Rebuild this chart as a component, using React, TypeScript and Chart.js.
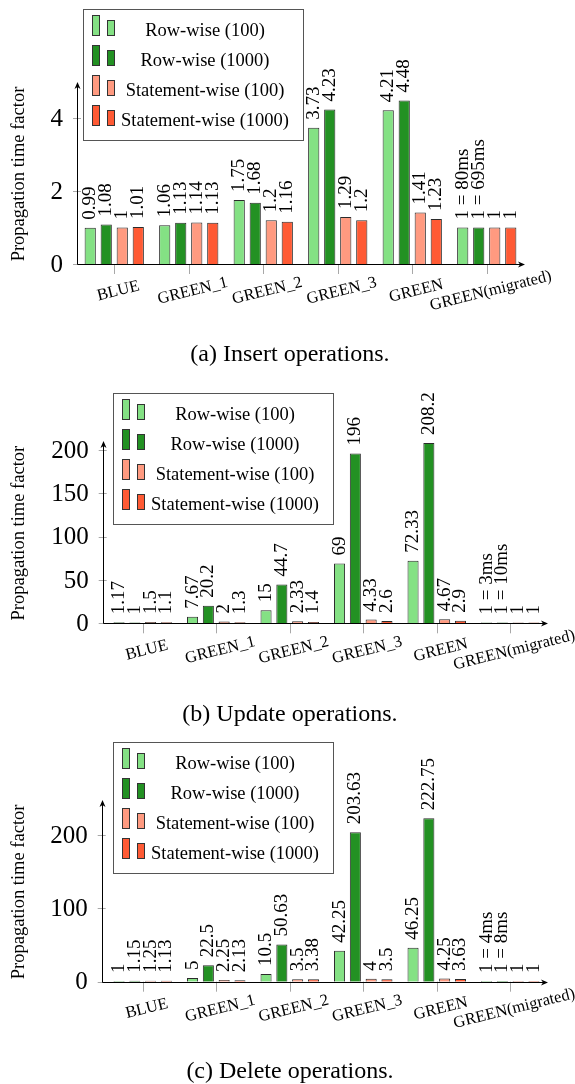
import React, { useEffect, useRef } from 'react';
import { Chart, registerables } from 'chart.js';

Chart.register(...registerables);

// ---------- data ----------
const categories = ['BLUE', 'GREEN_1', 'GREEN_2', 'GREEN_3', 'GREEN', 'GREEN(migrated)'];
const seriesNames = ['Row-wise (100)', 'Row-wise (1000)', 'Statement-wise (100)', 'Statement-wise (1000)'];
const seriesColors = ['#84e184', '#239123', '#ff9a80', '#ff5a34'];

const insertRow100 = [0.99, 1.06, 1.75, 3.73, 4.21, 1];
const insertRow1000 = [1.08, 1.13, 1.68, 4.23, 4.48, 1];
const insertStmt100 = [1, 1.14, 1.2, 1.29, 1.41, 1];
const insertStmt1000 = [1.01, 1.13, 1.16, 1.2, 1.23, 1];
const insertMigratedLabels = ['1 = 80ms', '1 = 695ms', '1', '1'];
const insertTicks = [0, 2, 4];

const updateRow100 = [1.17, 7.67, 15, 69, 72.33, 1];
const updateRow1000 = [1, 20.2, 44.7, 196, 208.2, 1];
const updateStmt100 = [1.5, 2, 2.33, 4.33, 4.67, 1];
const updateStmt1000 = [1.1, 1.3, 1.4, 2.6, 2.9, 1];
const updateMigratedLabels = ['1 = 3ms', '1 = 10ms', '1', '1'];
const updateTicks = [0, 50, 100, 150, 200];

const deleteRow100 = [1, 5, 10.5, 42.25, 46.25, 1];
const deleteRow1000 = [1.15, 22.5, 50.63, 203.63, 222.75, 1];
const deleteStmt100 = [1.25, 2.25, 3.5, 4, 4.25, 1];
const deleteStmt1000 = [1.13, 2.13, 3.38, 3.5, 3.63, 1];
const deleteMigratedLabels = ['1 = 4ms', '1 = 8ms', '1', '1'];
const deleteTicks = [0, 100, 200];

const yTitle = 'Propagation time factor';

const FONT = '"Liberation Serif", "Times New Roman", Times, serif';

type PanelProps = {
  top: number;
  height: number;
  series: number[][];
  migrated: string[];
  ticks: number[];
  yMax: number;
  axisX: number;
  area: { left: number; right: number; top: number; bottom: number };
  legend: { x: number; y: number };
};

function makeOverlay(p: PanelProps) {
  return {
    id: 'overlay',
    beforeDatasetsDraw(chart: any) {
      const ctx = chart.ctx;
      const { bottom } = chart.chartArea;
      const ys = chart.scales.y;
      const xs = chart.scales.x;
      ctx.save();
      ctx.strokeStyle = '#a8a8a8';
      ctx.lineWidth = 1;
      p.ticks.forEach((v) => {
        const y = Math.round(ys.getPixelForValue(v)) + 0.5;
        ctx.beginPath();
        ctx.moveTo(p.axisX - 4, y);
        ctx.lineTo(p.axisX + 4, y);
        ctx.stroke();
      });
      categories.forEach((_c, i) => {
        const x = Math.round(xs.getPixelForValue(i)) + 0.5;
        ctx.beginPath();
        ctx.moveTo(x, bottom);
        ctx.lineTo(x, bottom + 10);
        ctx.stroke();
      });
      ctx.restore();
    },
    afterDatasetsDraw(chart: any) {
      const ctx = chart.ctx;
      const { top, bottom, right } = chart.chartArea;
      const ys = chart.scales.y;
      const xs = chart.scales.x;
      ctx.save();
      // axes
      ctx.strokeStyle = '#000';
      ctx.fillStyle = '#000';
      ctx.lineWidth = 1;
      const ax = Math.round(p.axisX) + 0.5;
      const by = Math.round(bottom) + 0.5;
      const yTip = top - 2;
      const xTip = right + 1;
      ctx.beginPath();
      ctx.moveTo(ax, by);
      ctx.lineTo(ax, yTip + 4);
      ctx.moveTo(ax, by);
      ctx.lineTo(xTip - 4, by);
      ctx.stroke();
      // arrow heads
      ctx.beginPath();
      ctx.moveTo(ax, yTip);
      ctx.lineTo(ax - 3, yTip + 7);
      ctx.lineTo(ax, yTip + 5);
      ctx.lineTo(ax + 3, yTip + 7);
      ctx.closePath();
      ctx.fill();
      ctx.beginPath();
      ctx.moveTo(xTip, by);
      ctx.lineTo(xTip - 7, by - 3);
      ctx.lineTo(xTip - 5, by);
      ctx.lineTo(xTip - 7, by + 3);
      ctx.closePath();
      ctx.fill();

      // y tick labels
      ctx.font = `25px ${FONT}`;
      ctx.textAlign = 'right';
      ctx.textBaseline = 'middle';
      p.ticks.forEach((v) => {
        ctx.fillText(String(v), p.axisX - 14, ys.getPixelForValue(v) + 1);
      });

      // x labels (rotated)
      ctx.font = `16.5px ${FONT}`;
      categories.forEach((c, i) => {
        const x = xs.getPixelForValue(i);
        ctx.save();
        ctx.translate(x + 4, bottom + 27);
        ctx.rotate((-14 * Math.PI) / 180);
        ctx.textAlign = 'center';
        ctx.textBaseline = 'middle';
        ctx.fillText(c, 0, 0);
        ctx.restore();
      });

      // y title
      ctx.save();
      ctx.font = `18.5px ${FONT}`;
      ctx.translate(19.5, (top + bottom) / 2);
      ctx.rotate(-Math.PI / 2);
      ctx.textAlign = 'center';
      ctx.textBaseline = 'middle';
      ctx.fillText(yTitle, 0, 0);
      ctx.restore();

      // value labels
      ctx.font = `19px ${FONT}`;
      p.series.forEach((vals, si) => {
        const meta = chart.getDatasetMeta(si);
        meta.data.forEach((el: any, i: number) => {
          const label = i === categories.length - 1 ? p.migrated[si] : String(vals[i]);
          ctx.save();
          ctx.translate(el.x, el.y - 8);
          ctx.rotate(-Math.PI / 2);
          ctx.textAlign = 'left';
          ctx.textBaseline = 'middle';
          ctx.fillText(label, 0, 0);
          ctx.restore();
        });
      });
      ctx.restore();
    },
    afterDraw(chart: any) {
      const ctx = chart.ctx;
      const lx = p.legend.x;
      const ly = p.legend.y;
      const w = 220;
      const h = 131;
      ctx.save();
      ctx.fillStyle = '#fff';
      ctx.fillRect(lx, ly, w, h);
      ctx.strokeStyle = '#555';
      ctx.lineWidth = 1;
      ctx.strokeRect(Math.round(lx) + 0.5, Math.round(ly) + 0.5, w, h);
      ctx.font = `18.5px ${FONT}`;
      ctx.textAlign = 'center';
      ctx.textBaseline = 'middle';
      seriesNames.forEach((name, k) => {
        const cy = Math.round(ly + 21 + 30 * k);
        ctx.fillStyle = seriesColors[k];
        ctx.strokeStyle = '#333';
        ctx.fillRect(lx + 9, cy - 15, 8, 21);
        ctx.strokeRect(lx + 9.5, cy - 14.5, 7, 20);
        ctx.fillRect(lx + 24, cy - 10, 8, 16);
        ctx.strokeRect(lx + 24.5, cy - 9.5, 7, 15);
        ctx.fillStyle = '#000';
        ctx.fillText(name, lx + 122, cy + 1);
      });
      ctx.restore();
    },
  };
}

function Panel(p: PanelProps) {
  const ref = useRef<HTMLCanvasElement | null>(null);
  useEffect(() => {
    if (!ref.current) return;
    const chart = new Chart(ref.current, {
      type: 'bar',
      data: {
        labels: categories,
        datasets: p.series.map((vals, i) => ({
          label: seriesNames[i],
          data: vals,
          backgroundColor: seriesColors[i],
          borderColor: '#2b2b2b',
          borderWidth: 1,
          categoryPercentage: 0.86,
          barPercentage: 0.7,
        })),
      },
      options: {
        animation: false,
        responsive: false,
        events: [],
        layout: {
          padding: {
            left: p.area.left,
            right: 575 - p.area.right,
            top: p.area.top,
            bottom: p.height - p.area.bottom,
          },
        },
        plugins: { legend: { display: false }, tooltip: { enabled: false } },
        scales: {
          x: { type: 'category', display: false, offset: true },
          y: { type: 'linear', display: false, min: 0, max: p.yMax },
        },
      },
      plugins: [makeOverlay(p)],
    });
    return () => chart.destroy();
  }, []);
  return (
    <canvas
      ref={ref}
      width={575}
      height={p.height}
      style={{ position: 'absolute', left: 0, top: p.top, width: 575, height: p.height }}
    />
  );
}

function Caption({ text, y }: { text: string; y: number }) {
  return (
    <div
      style={{
        position: 'absolute',
        left: 90,
        width: 400,
        top: y - 14,
        height: 28,
        lineHeight: '28px',
        textAlign: 'center',
        fontFamily: FONT,
        fontSize: 24,
        color: '#000',
        whiteSpace: 'nowrap',
      }}
    >
      {text}
    </div>
  );
}

export default function App() {
  return (
    <div style={{ position: 'fixed', left: 0, top: 0, width: 575, height: 1084, background: '#fff', overflow: 'hidden' }}>
      <Panel
        top={0}
        height={340}
        series={[insertRow100, insertRow1000, insertStmt100, insertStmt1000]}
        migrated={insertMigratedLabels}
        ticks={insertTicks}
        yMax={4.93}
        axisX={77}
        area={{ left: 77, right: 524, top: 84, bottom: 264 }}
        legend={{ x: 83, y: 8.5 }}
      />
      <Caption text="(a) Insert operations." y={353} />
      <Panel
        top={360}
        height={340}
        series={[updateRow100, updateRow1000, updateStmt100, updateStmt1000]}
        migrated={updateMigratedLabels}
        ticks={updateTicks}
        yMax={208.2}
        axisX={102.7}
        area={{ left: 106, right: 547, top: 83, bottom: 263.3 }}
        legend={{ x: 113, y: 33.3 }}
      />
      <Caption text="(b) Update operations." y={712.5} />
      <Panel
        top={718}
        height={340}
        series={[deleteRow100, deleteRow1000, deleteStmt100, deleteStmt1000]}
        migrated={deleteMigratedLabels}
        ticks={deleteTicks}
        yMax={245}
        axisX={101.7}
        area={{ left: 106, right: 547, top: 84, bottom: 263.7 }}
        legend={{ x: 113, y: 24.3 }}
      />
      <Caption text="(c) Delete operations." y={1070} />
    </div>
  );
}
